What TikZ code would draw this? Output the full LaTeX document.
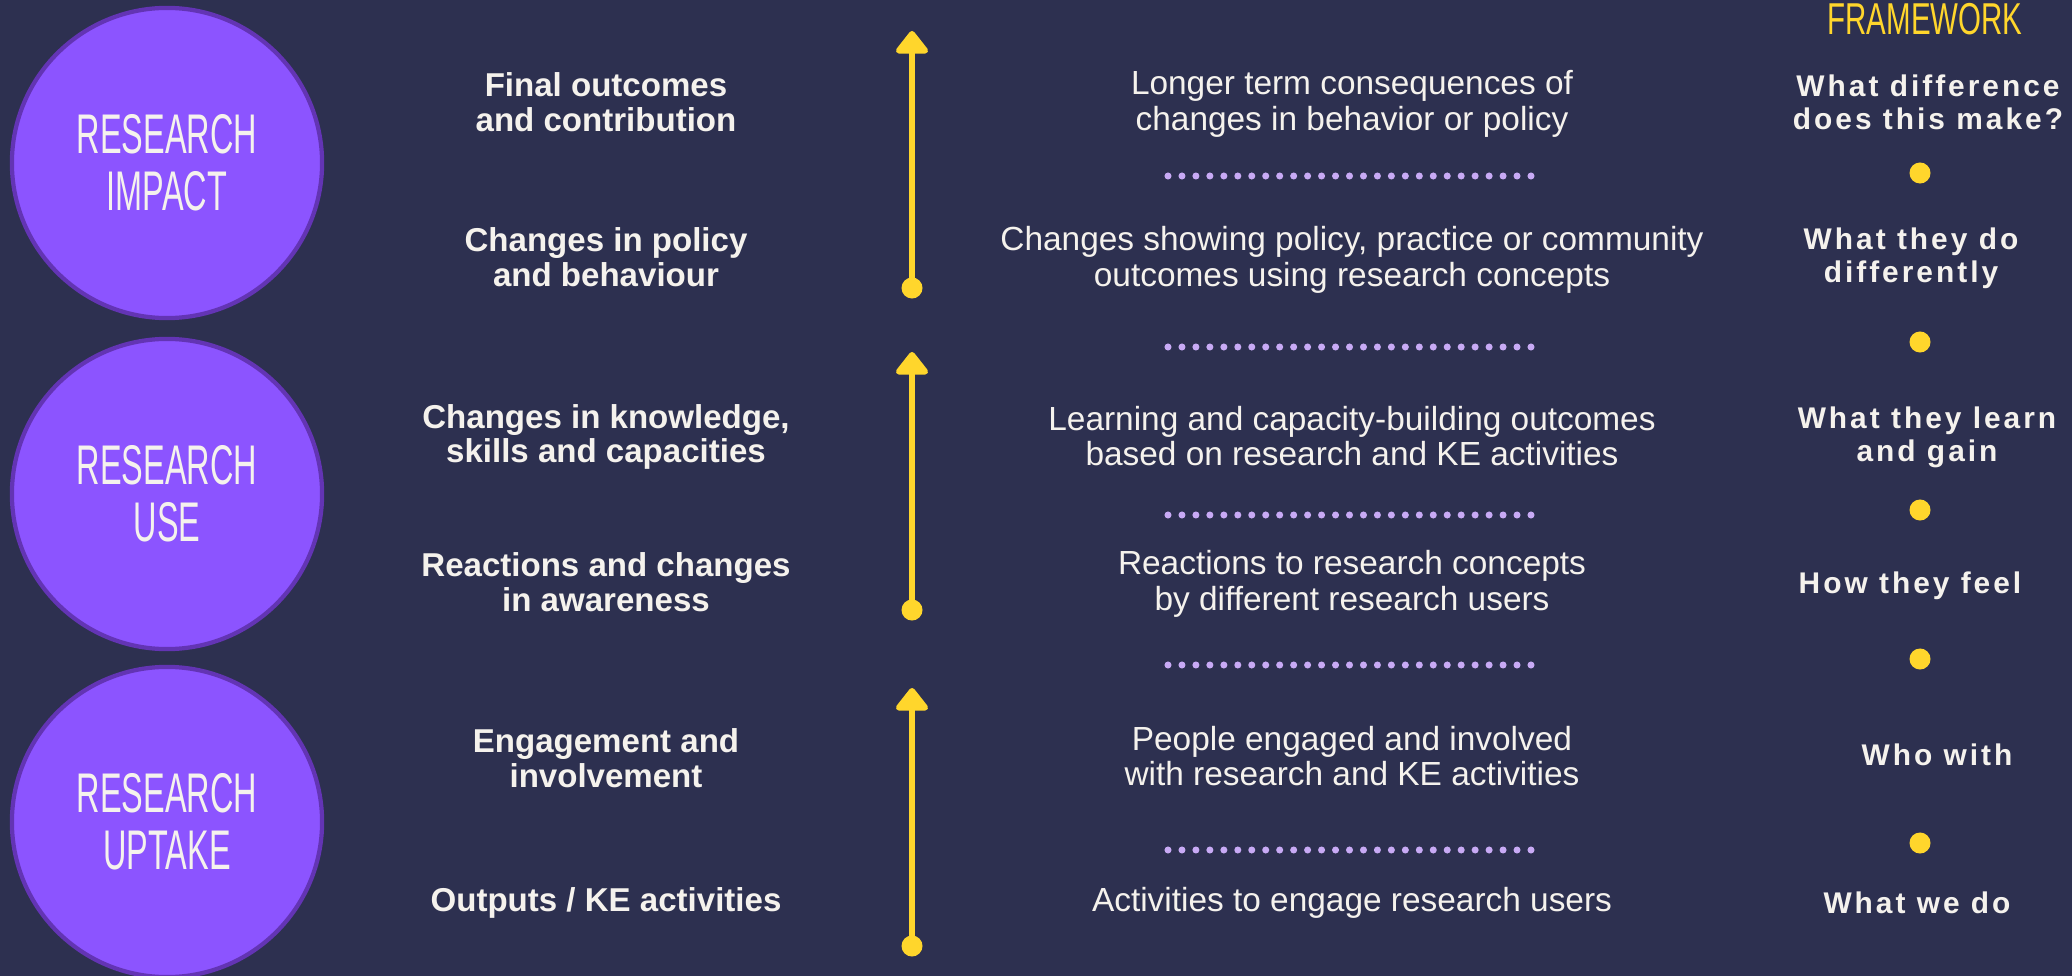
\documentclass[tikz,border=0pt]{standalone}
\usepackage{fontspec}
\setmainfont{Liberation Sans}
\newfontfamily\handfont[FakeStretch=0.58]{Liberation Sans}
\newfontfamily\headfont[FakeStretch=0.66]{Liberation Sans}
\newfontfamily\trackfont[LetterSpace=10]{Liberation Sans}
\usetikzlibrary{arrows.meta}
\definecolor{bgNavy}{RGB}{45,48,80}
\definecolor{circFill}{RGB}{140,84,255}
\definecolor{circEdge}{RGB}{99,52,180}
\definecolor{sunYellow}{RGB}{255,214,44}
\definecolor{lilac}{RGB}{200,170,245}
\definecolor{paper}{RGB}{245,242,237}

\begin{document}
\begin{tikzpicture}[x=0.01cm, y=-0.01cm,
	stage/.style={circle, draw=circEdge, line width=1.2pt, fill=circFill, minimum size=3.1cm, inner sep=0pt, text=paper, align=center, font=\handfont\fontsize{15.9}{16.2}\selectfont},
	level/.style={text=paper, align=center, font=\bfseries\fontsize{9.4}{9.8}\selectfont},
	detail/.style={text=paper, align=center, font=\fontsize{9.5}{10.2}\selectfont},
	question/.style={text=paper, align=center, font=\trackfont\bfseries\fontsize{8.5}{9.4}\selectfont},
	knob/.style={circle, fill=sunYellow, inner sep=0pt, minimum size=0.21cm},
	dotrow/.style={draw=lilac, line width=2pt, line cap=round, dash pattern=on 0pt off 3.97pt},
	upline/.style={draw=sunYellow, line width=1.7pt, -{Triangle[width=10.5pt, length=7pt, round]}}
	]
	\useasboundingbox (0,0) rectangle (2072,976);
	\fill[bgNavy] (0,0) rectangle (2072,976);
	
	% stages
	\node[stage] (impact) at (167,163) {RESEARCH\\IMPACT};
	\node[stage] (use) at (167,494) {RESEARCH\\USE};
	\node[stage] (uptake) at (167,822) {RESEARCH\\UPTAKE};
	
	% levels
	\node[level] (final) at (606,102) {Final outcomes\\and contribution};
	\node[level] (policy) at (606,257) {Changes in policy\\and behaviour};
	\node[level] (knowledge) at (606,437) {Changes in knowledge,\\skills and capacities};
	\node[level] (reactions) at (606,582) {Reactions and changes\\in awareness};
	\node[level] (engage) at (606,758) {Engagement and\\involvement};
	\node[level] (outputs) at (606,903) {Outputs / KE activities};
	
	% arrows up
	\foreach \lo/\hi [count=\i] in {288/31, 610/352, 946/688} {
		\node[knob] (foot\i) at (912,\lo) {};
		\coordinate (tip\i) at (912,\hi);
		\draw[upline] (foot\i.center) -- (tip\i);
	}
	
	% descriptions
	\node[detail] (longer) at (1352,104) {Longer term consequences of\\changes in behavior or policy};
	\node[detail] (showing) at (1352,260) {Changes showing policy, practice or community\\outcomes using research concepts};
	\node[detail] (learning) at (1352,436) {Learning and capacity-building outcomes\\based on research and KE activities};
	\node[detail] (toconcepts) at (1352,584) {Reactions to research concepts\\by different research users};
	\node[detail] (involved) at (1352,756) {People engaged and involved\\with research and KE activities};
	\node[detail] (activities) at (1352,903) {Activities to engage research users};
	
	\foreach \y [count=\i] in {176,347,515,665,850} {
		\coordinate (rowl\i) at (1168,\y);
		\coordinate (rowr\i) at (1531,\y);
		\draw[dotrow] (rowl\i) -- (rowr\i);
	}
	
	% framework
	\node[text=sunYellow, font=\headfont\fontsize{12.7}{13}\selectfont] (frame) at (1925,19) {FRAMEWORK};
	\node[question] (diff) at (1928,102) {What difference\\does this make?};
	\node[question] (differently) at (1911,258) {What they do\\differently};
	\node[question] (learn) at (1927,437) {What they learn\\and gain};
	\node[question] (feel) at (1910,586) {How they feel};
	\node[question] (whowith) at (1937,755) {Who with};
	\node[question] (wedo) at (1917,903) {What we do};
	\foreach \y [count=\i] in {173,342,510,659,843}
		\node[knob] (mark\i) at (1920,\y) {};
\end{tikzpicture}
\end{document}
